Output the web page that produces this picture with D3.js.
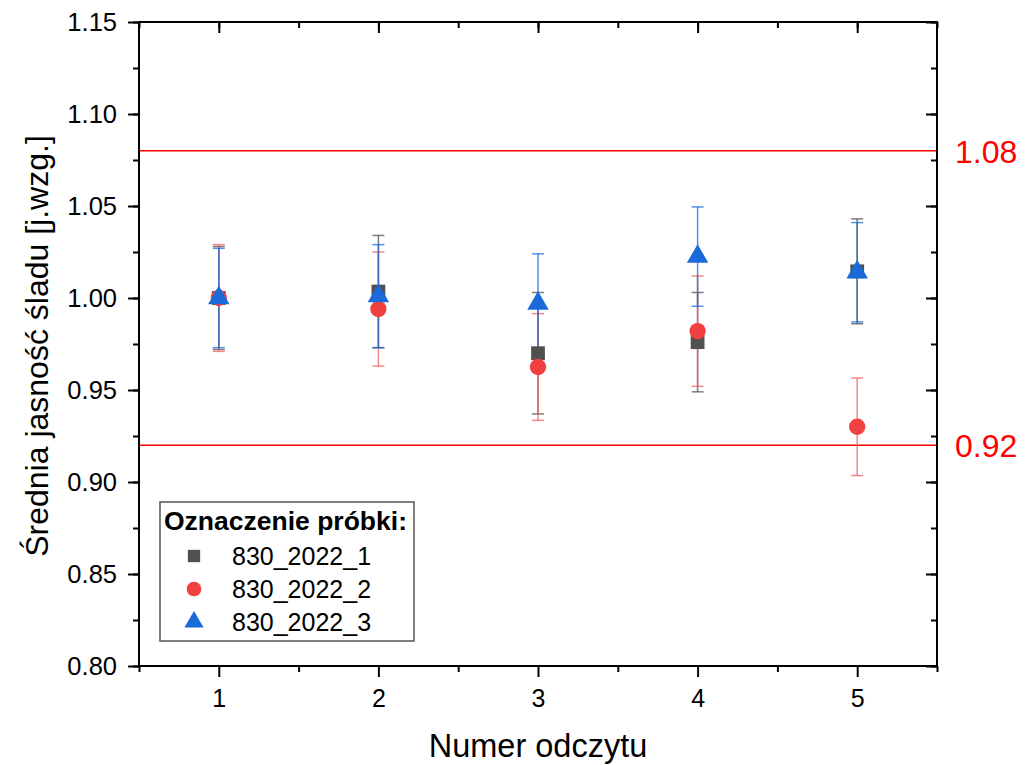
<!DOCTYPE html>
<html>
<head>
<meta charset="utf-8">
<script src="https://cdn.jsdelivr.net/npm/d3@7"></script>
<style>
  body { margin: 0; background: #fff; }
  svg { font-family: "Liberation Sans", Arial, sans-serif; }
</style>
</head>
<body>
<div id="chart"></div>
<script>
const readings = [1, 2, 3, 4, 5];
const names = ["830_2022_1", "830_2022_2", "830_2022_3"];
const s1 = [1.000, 1.0035, 0.970, 0.976, 1.0145];
const s1err = [0.028, 0.0305, 0.033, 0.027, 0.0285];
const s2 = [1.000, 0.994, 0.9625, 0.982, 0.930];
const s2err = [0.029, 0.031, 0.029, 0.030, 0.0265];
const s3 = [1.000, 1.001, 0.997, 1.0225, 1.014];
const s3err = [0.027, 0.028, 0.027, 0.027, 0.027];
const limits = [1.08, 0.92];
const yTicks = [0.80, 0.85, 0.90, 0.95, 1.00, 1.05, 1.10, 1.15];

const width = 1025, height = 765;
const pLeft = 139, pRight = 937, pTop = 22, pBottom = 666;
const font = "Liberation Sans, Arial, sans-serif";

const svg = d3.select("#chart").append("svg")
  .attr("width", width).attr("height", height);

const x = d3.scaleLinear().domain([0.5, 5.5]).range([pLeft, pRight]);
const y = d3.scaleLinear().domain([0.80, 1.15]).range([pBottom, pTop]);

// limit lines
svg.append("g").selectAll("line").data(limits).enter().append("line")
  .attr("x1", pLeft).attr("x2", pRight)
  .attr("y1", d => y(d)).attr("y2", d => y(d))
  .attr("stroke", "#ff0000").attr("stroke-width", 1.5);
svg.append("g").selectAll("text").data(limits).enter().append("text")
  .attr("x", 955).attr("y", d => y(d) + 12)
  .attr("font-size", 32).attr("fill", "#ff0000")
  .text(d => d.toFixed(2));

// axes
const minorY = d3.range(0.80, 1.1501, 0.025);
const minorX = d3.range(0.5, 5.51, 0.5);

svg.append("g").attr("transform", `translate(0,${pBottom})`)
  .call(d3.axisBottom(x).tickValues(readings).tickFormat(d3.format("d")).tickSize(11).tickPadding(12))
  .call(g => g.selectAll("text").attr("font-size", 25).attr("fill", "#000"));
svg.append("g").attr("transform", `translate(0,${pBottom})`)
  .call(d3.axisBottom(x).tickValues(minorX.filter(v => v % 1 !== 0)).tickFormat("").tickSize(6));

svg.append("g").attr("transform", `translate(${pLeft},0)`)
  .call(d3.axisLeft(y).tickValues(yTicks).tickFormat(d3.format(".2f")).tickSize(11).tickPadding(11))
  .call(g => g.selectAll("text").attr("font-size", 25.5).attr("fill", "#000"));
svg.append("g").attr("transform", `translate(${pLeft},0)`)
  .call(d3.axisLeft(y).tickValues(minorY).tickFormat("").tickSize(6));

// inner ticks on top and right
svg.append("g").attr("transform", `translate(0,${pTop})`)
  .call(d3.axisBottom(x).tickValues(readings).tickFormat("").tickSize(11));
svg.append("g").attr("transform", `translate(0,${pTop})`)
  .call(d3.axisBottom(x).tickValues(minorX).tickFormat("").tickSize(6));
svg.append("g").attr("transform", `translate(${pRight},0)`)
  .call(d3.axisLeft(y).tickValues(yTicks).tickFormat("").tickSize(11));
svg.append("g").attr("transform", `translate(${pRight},0)`)
  .call(d3.axisLeft(y).tickValues(minorY).tickFormat("").tickSize(6));

svg.selectAll(".domain").remove();
svg.selectAll(".tick line").attr("stroke", "#000").attr("stroke-width", 2);
svg.selectAll("g").attr("font-family", font);

svg.append("rect")
  .attr("x", pLeft).attr("y", pTop)
  .attr("width", pRight - pLeft).attr("height", pBottom - pTop)
  .attr("fill", "none").attr("stroke", "#000").attr("stroke-width", 2);

// series
const series = [
  { vals: s1, err: s1err, color: "#505050", errColor: "#505050", sym: d3.symbolSquare, size: 190 },
  { vals: s2, err: s2err, color: "#f04040", errColor: "#f06060", sym: d3.symbolCircle, size: 210 },
  { vals: s3, err: s3err, color: "#1a6bd9", errColor: "#1a6bd9", sym: d3.symbolTriangle, size: 200 }
];

series.forEach(s => {
  const g = svg.append("g");
  const pts = readings.map((r, i) => ({ r, v: s.vals[i], e: s.err[i] }));
  const eb = g.selectAll("g.eb").data(pts).enter().append("g")
    .attr("stroke", s.errColor).attr("stroke-width", 1.5).attr("stroke-opacity", 0.75);
  eb.append("line")
    .attr("x1", d => x(d.r)).attr("x2", d => x(d.r))
    .attr("y1", d => y(d.v + d.e)).attr("y2", d => y(d.v - d.e));
  eb.append("line")
    .attr("x1", d => x(d.r) - 6).attr("x2", d => x(d.r) + 6)
    .attr("y1", d => y(d.v + d.e)).attr("y2", d => y(d.v + d.e));
  eb.append("line")
    .attr("x1", d => x(d.r) - 6).attr("x2", d => x(d.r) + 6)
    .attr("y1", d => y(d.v - d.e)).attr("y2", d => y(d.v - d.e));
});

series.forEach(s => {
  svg.append("g").selectAll("path").data(readings.map((r, i) => ({ r, v: s.vals[i] }))).enter()
    .append("path")
    .attr("d", d3.symbol().type(s.sym).size(s.size))
    .attr("transform", d => `translate(${x(d.r)},${y(d.v)})`)
    .attr("fill", s.color);
});

// legend
const lg = svg.append("g").attr("transform", "translate(160,502)");
lg.append("rect").attr("width", 254).attr("height", 139)
  .attr("fill", "#fff").attr("stroke", "#555").attr("stroke-width", 1.5);
lg.append("text").attr("x", 4).attr("y", 28)
  .attr("font-size", 26.5).attr("font-weight", "bold").text("Oznaczenie próbki:");
series.forEach((s, i) => {
  const yy = 54 + i * 33;
  lg.append("path")
    .attr("d", d3.symbol().type(s.sym).size(s.size * 0.8))
    .attr("transform", `translate(34,${yy})`)
    .attr("fill", s.color);
  lg.append("text").attr("x", 72).attr("y", yy + 9)
    .attr("font-size", 25).text(names[i]);
});

// axis titles
svg.append("text")
  .attr("x", 538).attr("y", 757)
  .attr("text-anchor", "middle").attr("font-size", 32.5)
  .text("Numer odczytu");
svg.append("text")
  .attr("transform", `translate(48,346) rotate(-90)`)
  .attr("text-anchor", "middle").attr("font-size", 32)
  .text("Średnia jasność śladu [j.wzg.]");
</script>
</body>
</html>
